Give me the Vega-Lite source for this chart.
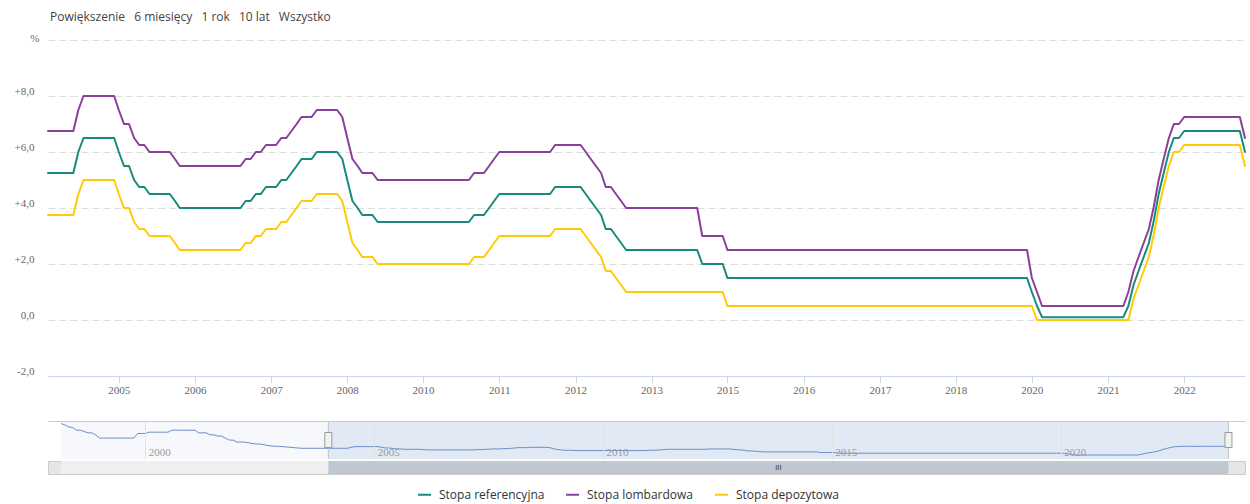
{
"$schema": "https://vega.github.io/schema/vega-lite/v6.json",
"background": "white",
"padding": {"left": 14, "top": 11, "right": 5, "bottom": 12},
"title": {"text": "Powiększenie\u2002 6 miesięcy\u2002 1 rok\u2002 10 lat\u2002 Wszystko", "anchor": "start", "font": "Open Sans", "fontSize": 12, "fontWeight": "normal", "color": "#444444", "offset": 8, "dx": 36},
"datasets": {"rates": [
{"date":"1998-03-01","ref":24},{"date":"1998-04-01","ref":23},{"date":"1998-05-01","ref":21.5},{"date":"1998-06-01","ref":21},{"date":"1998-07-01","ref":19},{"date":"1998-08-01","ref":19},{"date":"1998-09-01","ref":18},{"date":"1998-10-01","ref":17},{"date":"1998-11-01","ref":17},{"date":"1998-12-01","ref":15.5},
{"date":"1999-01-01","ref":13},{"date":"1999-02-01","ref":13},{"date":"1999-03-01","ref":13},{"date":"1999-04-01","ref":13},{"date":"1999-05-01","ref":13},{"date":"1999-06-01","ref":13},{"date":"1999-07-01","ref":13},{"date":"1999-08-01","ref":13},{"date":"1999-09-01","ref":13},{"date":"1999-10-01","ref":13},{"date":"1999-11-01","ref":16.5},{"date":"1999-12-01","ref":16.5},
{"date":"2000-01-01","ref":16.5},{"date":"2000-02-01","ref":17.5},{"date":"2000-03-01","ref":17.5},{"date":"2000-04-01","ref":17.5},{"date":"2000-05-01","ref":17.5},{"date":"2000-06-01","ref":17.5},{"date":"2000-07-01","ref":17.5},{"date":"2000-08-01","ref":19},{"date":"2000-09-01","ref":19},{"date":"2000-10-01","ref":19},{"date":"2000-11-01","ref":19},{"date":"2000-12-01","ref":19},
{"date":"2001-01-01","ref":19},{"date":"2001-02-01","ref":19},{"date":"2001-03-01","ref":17},{"date":"2001-04-01","ref":17},{"date":"2001-05-01","ref":17},{"date":"2001-06-01","ref":15.5},{"date":"2001-07-01","ref":15.5},{"date":"2001-08-01","ref":14.5},{"date":"2001-09-01","ref":14.5},{"date":"2001-10-01","ref":13},{"date":"2001-11-01","ref":11.5},{"date":"2001-12-01","ref":11.5},
{"date":"2002-01-01","ref":10},{"date":"2002-02-01","ref":10},{"date":"2002-03-01","ref":10},{"date":"2002-04-01","ref":9.5},{"date":"2002-05-01","ref":9},{"date":"2002-06-01","ref":8.5},{"date":"2002-07-01","ref":8.5},{"date":"2002-08-01","ref":8},{"date":"2002-09-01","ref":7.5},{"date":"2002-10-01","ref":7},{"date":"2002-11-01","ref":6.75},{"date":"2002-12-01","ref":6.75},
{"date":"2003-01-01","ref":6.5},{"date":"2003-02-01","ref":6.25},{"date":"2003-03-01","ref":6},{"date":"2003-04-01","ref":5.75},{"date":"2003-05-01","ref":5.5},{"date":"2003-06-01","ref":5.25},{"date":"2003-07-01","ref":5.25},{"date":"2003-08-01","ref":5.25},{"date":"2003-09-01","ref":5.25},{"date":"2003-10-01","ref":5.25},{"date":"2003-11-01","ref":5.25},{"date":"2003-12-01","ref":5.25},
{"date":"2004-01-01","ref":5.25,"lomb":6.75,"dep":3.75},{"date":"2004-02-01","ref":5.25,"lomb":6.75,"dep":3.75},{"date":"2004-03-01","ref":5.25,"lomb":6.75,"dep":3.75},{"date":"2004-04-01","ref":5.25,"lomb":6.75,"dep":3.75},{"date":"2004-05-01","ref":5.25,"lomb":6.75,"dep":3.75},{"date":"2004-06-01","ref":5.25,"lomb":6.75,"dep":3.75},
{"date":"2004-07-01","ref":6,"lomb":7.5,"dep":4.5},{"date":"2004-08-01","ref":6.5,"lomb":8,"dep":5},{"date":"2004-09-01","ref":6.5,"lomb":8,"dep":5},{"date":"2004-10-01","ref":6.5,"lomb":8,"dep":5},{"date":"2004-11-01","ref":6.5,"lomb":8,"dep":5},{"date":"2004-12-01","ref":6.5,"lomb":8,"dep":5},
{"date":"2005-01-01","ref":6.5,"lomb":8,"dep":5},{"date":"2005-02-01","ref":6.5,"lomb":8,"dep":5},{"date":"2005-03-01","ref":6,"lomb":7.5,"dep":4.5},{"date":"2005-04-01","ref":5.5,"lomb":7,"dep":4},{"date":"2005-05-01","ref":5.5,"lomb":7,"dep":4},{"date":"2005-06-01","ref":5,"lomb":6.5,"dep":3.5},
{"date":"2005-07-01","ref":4.75,"lomb":6.25,"dep":3.25},{"date":"2005-08-01","ref":4.75,"lomb":6.25,"dep":3.25},{"date":"2005-09-01","ref":4.5,"lomb":6,"dep":3},{"date":"2005-10-01","ref":4.5,"lomb":6,"dep":3},{"date":"2005-11-01","ref":4.5,"lomb":6,"dep":3},{"date":"2005-12-01","ref":4.5,"lomb":6,"dep":3},
{"date":"2006-01-01","ref":4.5,"lomb":6,"dep":3},{"date":"2006-02-01","ref":4.25,"lomb":5.75,"dep":2.75},{"date":"2006-03-01","ref":4,"lomb":5.5,"dep":2.5},{"date":"2006-04-01","ref":4,"lomb":5.5,"dep":2.5},{"date":"2006-05-01","ref":4,"lomb":5.5,"dep":2.5},{"date":"2006-06-01","ref":4,"lomb":5.5,"dep":2.5},
{"date":"2006-07-01","ref":4,"lomb":5.5,"dep":2.5},{"date":"2006-08-01","ref":4,"lomb":5.5,"dep":2.5},{"date":"2006-09-01","ref":4,"lomb":5.5,"dep":2.5},{"date":"2006-10-01","ref":4,"lomb":5.5,"dep":2.5},{"date":"2006-11-01","ref":4,"lomb":5.5,"dep":2.5},{"date":"2006-12-01","ref":4,"lomb":5.5,"dep":2.5},
{"date":"2007-01-01","ref":4,"lomb":5.5,"dep":2.5},{"date":"2007-02-01","ref":4,"lomb":5.5,"dep":2.5},{"date":"2007-03-01","ref":4,"lomb":5.5,"dep":2.5},{"date":"2007-04-01","ref":4.25,"lomb":5.75,"dep":2.75},{"date":"2007-05-01","ref":4.25,"lomb":5.75,"dep":2.75},{"date":"2007-06-01","ref":4.5,"lomb":6,"dep":3},
{"date":"2007-07-01","ref":4.5,"lomb":6,"dep":3},{"date":"2007-08-01","ref":4.75,"lomb":6.25,"dep":3.25},{"date":"2007-09-01","ref":4.75,"lomb":6.25,"dep":3.25},{"date":"2007-10-01","ref":4.75,"lomb":6.25,"dep":3.25},{"date":"2007-11-01","ref":5,"lomb":6.5,"dep":3.5},{"date":"2007-12-01","ref":5,"lomb":6.5,"dep":3.5},
{"date":"2008-01-01","ref":5.25,"lomb":6.75,"dep":3.75},{"date":"2008-02-01","ref":5.5,"lomb":7,"dep":4},{"date":"2008-03-01","ref":5.75,"lomb":7.25,"dep":4.25},{"date":"2008-04-01","ref":5.75,"lomb":7.25,"dep":4.25},{"date":"2008-05-01","ref":5.75,"lomb":7.25,"dep":4.25},{"date":"2008-06-01","ref":6,"lomb":7.5,"dep":4.5},
{"date":"2008-07-01","ref":6,"lomb":7.5,"dep":4.5},{"date":"2008-08-01","ref":6,"lomb":7.5,"dep":4.5},{"date":"2008-09-01","ref":6,"lomb":7.5,"dep":4.5},{"date":"2008-10-01","ref":6,"lomb":7.5,"dep":4.5},{"date":"2008-11-01","ref":5.75,"lomb":7.25,"dep":4.25},{"date":"2008-12-01","ref":5,"lomb":6.5,"dep":3.5},
{"date":"2009-01-01","ref":4.25,"lomb":5.75,"dep":2.75},{"date":"2009-02-01","ref":4,"lomb":5.5,"dep":2.5},{"date":"2009-03-01","ref":3.75,"lomb":5.25,"dep":2.25},{"date":"2009-04-01","ref":3.75,"lomb":5.25,"dep":2.25},{"date":"2009-05-01","ref":3.75,"lomb":5.25,"dep":2.25},{"date":"2009-06-01","ref":3.5,"lomb":5,"dep":2},
{"date":"2009-07-01","ref":3.5,"lomb":5,"dep":2},{"date":"2009-08-01","ref":3.5,"lomb":5,"dep":2},{"date":"2009-09-01","ref":3.5,"lomb":5,"dep":2},{"date":"2009-10-01","ref":3.5,"lomb":5,"dep":2},{"date":"2009-11-01","ref":3.5,"lomb":5,"dep":2},{"date":"2009-12-01","ref":3.5,"lomb":5,"dep":2},
{"date":"2010-01-01","ref":3.5,"lomb":5,"dep":2},{"date":"2010-02-01","ref":3.5,"lomb":5,"dep":2},{"date":"2010-03-01","ref":3.5,"lomb":5,"dep":2},{"date":"2010-04-01","ref":3.5,"lomb":5,"dep":2},{"date":"2010-05-01","ref":3.5,"lomb":5,"dep":2},{"date":"2010-06-01","ref":3.5,"lomb":5,"dep":2},
{"date":"2010-07-01","ref":3.5,"lomb":5,"dep":2},{"date":"2010-08-01","ref":3.5,"lomb":5,"dep":2},{"date":"2010-09-01","ref":3.5,"lomb":5,"dep":2},{"date":"2010-10-01","ref":3.5,"lomb":5,"dep":2},{"date":"2010-11-01","ref":3.5,"lomb":5,"dep":2},{"date":"2010-12-01","ref":3.5,"lomb":5,"dep":2},
{"date":"2011-01-01","ref":3.75,"lomb":5.25,"dep":2.25},{"date":"2011-02-01","ref":3.75,"lomb":5.25,"dep":2.25},{"date":"2011-03-01","ref":3.75,"lomb":5.25,"dep":2.25},{"date":"2011-04-01","ref":4,"lomb":5.5,"dep":2.5},{"date":"2011-05-01","ref":4.25,"lomb":5.75,"dep":2.75},{"date":"2011-06-01","ref":4.5,"lomb":6,"dep":3},
{"date":"2011-07-01","ref":4.5,"lomb":6,"dep":3},{"date":"2011-08-01","ref":4.5,"lomb":6,"dep":3},{"date":"2011-09-01","ref":4.5,"lomb":6,"dep":3},{"date":"2011-10-01","ref":4.5,"lomb":6,"dep":3},{"date":"2011-11-01","ref":4.5,"lomb":6,"dep":3},{"date":"2011-12-01","ref":4.5,"lomb":6,"dep":3},
{"date":"2012-01-01","ref":4.5,"lomb":6,"dep":3},{"date":"2012-02-01","ref":4.5,"lomb":6,"dep":3},{"date":"2012-03-01","ref":4.5,"lomb":6,"dep":3},{"date":"2012-04-01","ref":4.5,"lomb":6,"dep":3},{"date":"2012-05-01","ref":4.75,"lomb":6.25,"dep":3.25},{"date":"2012-06-01","ref":4.75,"lomb":6.25,"dep":3.25},
{"date":"2012-07-01","ref":4.75,"lomb":6.25,"dep":3.25},{"date":"2012-08-01","ref":4.75,"lomb":6.25,"dep":3.25},{"date":"2012-09-01","ref":4.75,"lomb":6.25,"dep":3.25},{"date":"2012-10-01","ref":4.75,"lomb":6.25,"dep":3.25},{"date":"2012-11-01","ref":4.5,"lomb":6,"dep":3},{"date":"2012-12-01","ref":4.25,"lomb":5.75,"dep":2.75},
{"date":"2013-01-01","ref":4,"lomb":5.5,"dep":2.5},{"date":"2013-02-01","ref":3.75,"lomb":5.25,"dep":2.25},{"date":"2013-03-01","ref":3.25,"lomb":4.75,"dep":1.75},{"date":"2013-04-01","ref":3.25,"lomb":4.75,"dep":1.75},{"date":"2013-05-01","ref":3,"lomb":4.5,"dep":1.5},{"date":"2013-06-01","ref":2.75,"lomb":4.25,"dep":1.25},
{"date":"2013-07-01","ref":2.5,"lomb":4,"dep":1},{"date":"2013-08-01","ref":2.5,"lomb":4,"dep":1},{"date":"2013-09-01","ref":2.5,"lomb":4,"dep":1},{"date":"2013-10-01","ref":2.5,"lomb":4,"dep":1},{"date":"2013-11-01","ref":2.5,"lomb":4,"dep":1},{"date":"2013-12-01","ref":2.5,"lomb":4,"dep":1},
{"date":"2014-01-01","ref":2.5,"lomb":4,"dep":1},{"date":"2014-02-01","ref":2.5,"lomb":4,"dep":1},{"date":"2014-03-01","ref":2.5,"lomb":4,"dep":1},{"date":"2014-04-01","ref":2.5,"lomb":4,"dep":1},{"date":"2014-05-01","ref":2.5,"lomb":4,"dep":1},{"date":"2014-06-01","ref":2.5,"lomb":4,"dep":1},
{"date":"2014-07-01","ref":2.5,"lomb":4,"dep":1},{"date":"2014-08-01","ref":2.5,"lomb":4,"dep":1},{"date":"2014-09-01","ref":2.5,"lomb":4,"dep":1},{"date":"2014-10-01","ref":2,"lomb":3,"dep":1},{"date":"2014-11-01","ref":2,"lomb":3,"dep":1},{"date":"2014-12-01","ref":2,"lomb":3,"dep":1},
{"date":"2015-01-01","ref":2,"lomb":3,"dep":1},{"date":"2015-02-01","ref":2,"lomb":3,"dep":1},{"date":"2015-03-01","ref":1.5,"lomb":2.5,"dep":0.5},{"date":"2015-04-01","ref":1.5,"lomb":2.5,"dep":0.5},{"date":"2015-05-01","ref":1.5,"lomb":2.5,"dep":0.5},{"date":"2015-06-01","ref":1.5,"lomb":2.5,"dep":0.5},
{"date":"2015-07-01","ref":1.5,"lomb":2.5,"dep":0.5},{"date":"2015-08-01","ref":1.5,"lomb":2.5,"dep":0.5},{"date":"2015-09-01","ref":1.5,"lomb":2.5,"dep":0.5},{"date":"2015-10-01","ref":1.5,"lomb":2.5,"dep":0.5},{"date":"2015-11-01","ref":1.5,"lomb":2.5,"dep":0.5},{"date":"2015-12-01","ref":1.5,"lomb":2.5,"dep":0.5},
{"date":"2016-01-01","ref":1.5,"lomb":2.5,"dep":0.5},{"date":"2016-02-01","ref":1.5,"lomb":2.5,"dep":0.5},{"date":"2016-03-01","ref":1.5,"lomb":2.5,"dep":0.5},{"date":"2016-04-01","ref":1.5,"lomb":2.5,"dep":0.5},{"date":"2016-05-01","ref":1.5,"lomb":2.5,"dep":0.5},{"date":"2016-06-01","ref":1.5,"lomb":2.5,"dep":0.5},
{"date":"2016-07-01","ref":1.5,"lomb":2.5,"dep":0.5},{"date":"2016-08-01","ref":1.5,"lomb":2.5,"dep":0.5},{"date":"2016-09-01","ref":1.5,"lomb":2.5,"dep":0.5},{"date":"2016-10-01","ref":1.5,"lomb":2.5,"dep":0.5},{"date":"2016-11-01","ref":1.5,"lomb":2.5,"dep":0.5},{"date":"2016-12-01","ref":1.5,"lomb":2.5,"dep":0.5},
{"date":"2017-01-01","ref":1.5,"lomb":2.5,"dep":0.5},{"date":"2017-02-01","ref":1.5,"lomb":2.5,"dep":0.5},{"date":"2017-03-01","ref":1.5,"lomb":2.5,"dep":0.5},{"date":"2017-04-01","ref":1.5,"lomb":2.5,"dep":0.5},{"date":"2017-05-01","ref":1.5,"lomb":2.5,"dep":0.5},{"date":"2017-06-01","ref":1.5,"lomb":2.5,"dep":0.5},
{"date":"2017-07-01","ref":1.5,"lomb":2.5,"dep":0.5},{"date":"2017-08-01","ref":1.5,"lomb":2.5,"dep":0.5},{"date":"2017-09-01","ref":1.5,"lomb":2.5,"dep":0.5},{"date":"2017-10-01","ref":1.5,"lomb":2.5,"dep":0.5},{"date":"2017-11-01","ref":1.5,"lomb":2.5,"dep":0.5},{"date":"2017-12-01","ref":1.5,"lomb":2.5,"dep":0.5},
{"date":"2018-01-01","ref":1.5,"lomb":2.5,"dep":0.5},{"date":"2018-02-01","ref":1.5,"lomb":2.5,"dep":0.5},{"date":"2018-03-01","ref":1.5,"lomb":2.5,"dep":0.5},{"date":"2018-04-01","ref":1.5,"lomb":2.5,"dep":0.5},{"date":"2018-05-01","ref":1.5,"lomb":2.5,"dep":0.5},{"date":"2018-06-01","ref":1.5,"lomb":2.5,"dep":0.5},
{"date":"2018-07-01","ref":1.5,"lomb":2.5,"dep":0.5},{"date":"2018-08-01","ref":1.5,"lomb":2.5,"dep":0.5},{"date":"2018-09-01","ref":1.5,"lomb":2.5,"dep":0.5},{"date":"2018-10-01","ref":1.5,"lomb":2.5,"dep":0.5},{"date":"2018-11-01","ref":1.5,"lomb":2.5,"dep":0.5},{"date":"2018-12-01","ref":1.5,"lomb":2.5,"dep":0.5},
{"date":"2019-01-01","ref":1.5,"lomb":2.5,"dep":0.5},{"date":"2019-02-01","ref":1.5,"lomb":2.5,"dep":0.5},{"date":"2019-03-01","ref":1.5,"lomb":2.5,"dep":0.5},{"date":"2019-04-01","ref":1.5,"lomb":2.5,"dep":0.5},{"date":"2019-05-01","ref":1.5,"lomb":2.5,"dep":0.5},{"date":"2019-06-01","ref":1.5,"lomb":2.5,"dep":0.5},
{"date":"2019-07-01","ref":1.5,"lomb":2.5,"dep":0.5},{"date":"2019-08-01","ref":1.5,"lomb":2.5,"dep":0.5},{"date":"2019-09-01","ref":1.5,"lomb":2.5,"dep":0.5},{"date":"2019-10-01","ref":1.5,"lomb":2.5,"dep":0.5},{"date":"2019-11-01","ref":1.5,"lomb":2.5,"dep":0.5},{"date":"2019-12-01","ref":1.5,"lomb":2.5,"dep":0.5},
{"date":"2020-01-01","ref":1.5,"lomb":2.5,"dep":0.5},{"date":"2020-02-01","ref":1.5,"lomb":2.5,"dep":0.5},{"date":"2020-03-01","ref":1,"lomb":1.5,"dep":0.5},{"date":"2020-04-01","ref":0.5,"lomb":1,"dep":0},{"date":"2020-05-01","ref":0.1,"lomb":0.5,"dep":0},{"date":"2020-06-01","ref":0.1,"lomb":0.5,"dep":0},
{"date":"2020-07-01","ref":0.1,"lomb":0.5,"dep":0},{"date":"2020-08-01","ref":0.1,"lomb":0.5,"dep":0},{"date":"2020-09-01","ref":0.1,"lomb":0.5,"dep":0},{"date":"2020-10-01","ref":0.1,"lomb":0.5,"dep":0},{"date":"2020-11-01","ref":0.1,"lomb":0.5,"dep":0},{"date":"2020-12-01","ref":0.1,"lomb":0.5,"dep":0},
{"date":"2021-01-01","ref":0.1,"lomb":0.5,"dep":0},{"date":"2021-02-01","ref":0.1,"lomb":0.5,"dep":0},{"date":"2021-03-01","ref":0.1,"lomb":0.5,"dep":0},{"date":"2021-04-01","ref":0.1,"lomb":0.5,"dep":0},{"date":"2021-05-01","ref":0.1,"lomb":0.5,"dep":0},{"date":"2021-06-01","ref":0.1,"lomb":0.5,"dep":0},
{"date":"2021-07-01","ref":0.1,"lomb":0.5,"dep":0},{"date":"2021-08-01","ref":0.1,"lomb":0.5,"dep":0},{"date":"2021-09-01","ref":0.1,"lomb":0.5,"dep":0},{"date":"2021-10-01","ref":0.5,"lomb":1,"dep":0},{"date":"2021-11-01","ref":1.25,"lomb":1.75,"dep":0.75},{"date":"2021-12-01","ref":1.75,"lomb":2.25,"dep":1.25},
{"date":"2022-01-01","ref":2.25,"lomb":2.75,"dep":1.75},{"date":"2022-02-01","ref":2.75,"lomb":3.25,"dep":2.25},{"date":"2022-03-01","ref":3.5,"lomb":4,"dep":3},{"date":"2022-04-01","ref":4.5,"lomb":5,"dep":4},{"date":"2022-05-01","ref":5.25,"lomb":5.75,"dep":4.75},{"date":"2022-06-01","ref":6,"lomb":6.5,"dep":5.5},
{"date":"2022-07-01","ref":6.5,"lomb":7,"dep":6},{"date":"2022-08-01","ref":6.5,"lomb":7,"dep":6},{"date":"2022-09-01","ref":6.75,"lomb":7.25,"dep":6.25},{"date":"2022-10-01","ref":6.75,"lomb":7.25,"dep":6.25},{"date":"2022-11-01","ref":6.75,"lomb":7.25,"dep":6.25},{"date":"2022-12-01","ref":6.75,"lomb":7.25,"dep":6.25},
{"date":"2023-01-01","ref":6.75,"lomb":7.25,"dep":6.25},{"date":"2023-02-01","ref":6.75,"lomb":7.25,"dep":6.25},{"date":"2023-03-01","ref":6.75,"lomb":7.25,"dep":6.25},{"date":"2023-04-01","ref":6.75,"lomb":7.25,"dep":6.25},{"date":"2023-05-01","ref":6.75,"lomb":7.25,"dep":6.25},{"date":"2023-06-01","ref":6.75,"lomb":7.25,"dep":6.25},
{"date":"2023-07-01","ref":6.75,"lomb":7.25,"dep":6.25},{"date":"2023-08-01","ref":6.75,"lomb":7.25,"dep":6.25},{"date":"2023-09-01","ref":6,"lomb":6.5,"dep":5.5}
]},
"resolve": {"scale": {"x": "independent", "y": "independent"}},
"spacing": 25,
"vconcat": [
{
 "width": 1197, "height": 336,
 "data": {"name": "rates", "format": {"parse": {"date": "date"}}},
 "transform": [{"filter": "isValid(datum.lomb)"}, {"fold": ["ref", "lomb", "dep"], "as": ["series", "value"]}],
 "mark": {"type": "line", "strokeWidth": 2, "strokeJoin": "round", "strokeCap": "round"},
 "encoding": {
  "x": {"field": "date", "type": "temporal", "title": null,
        "scale": {"type": "utc", "nice": false},
        "axis": {"values": [
          {"year": 2005, "month": 3, "date": 1, "utc": true},
          {"year": 2006, "month": 6, "date": 1, "utc": true},
          {"year": 2007, "month": 9, "date": 1, "utc": true},
          {"year": 2008, "month": 12, "date": 1, "utc": true},
          {"year": 2010, "month": 3, "date": 1, "utc": true},
          {"year": 2011, "month": 6, "date": 1, "utc": true},
          {"year": 2012, "month": 9, "date": 1, "utc": true},
          {"year": 2013, "month": 12, "date": 1, "utc": true},
          {"year": 2015, "month": 3, "date": 1, "utc": true},
          {"year": 2016, "month": 6, "date": 1, "utc": true},
          {"year": 2017, "month": 9, "date": 1, "utc": true},
          {"year": 2018, "month": 12, "date": 1, "utc": true},
          {"year": 2020, "month": 3, "date": 1, "utc": true},
          {"year": 2021, "month": 6, "date": 1, "utc": true},
          {"year": 2022, "month": 9, "date": 1, "utc": true}],
          "format": "%Y", "grid": false, "domainColor": "#ccd6eb", "tickColor": "#ccd6eb", "tickSize": 7,
          "labelPadding": 1, "labelFlush": false, "labelOverlap": false,
          "labelFont": "Liberation Serif", "labelFontSize": 11, "labelColor": "#666666"}},
  "y": {"field": "value", "type": "quantitative", "title": null,
        "scale": {"domain": [-2, 10], "nice": false, "zero": false},
        "axis": {"values": [-2, 0, 2, 4, 6, 8, 10],
          "labelExpr": "datum.value == 10 ? '' : (datum.value > 0 ? '+' : datum.value < 0 ? '-' : '') + abs(datum.value) + ',0'",
          "grid": true, "gridColor": "#dddddd", "gridDash": [7, 4], "domain": false, "ticks": false, "tickSize": 0,
          "labelPadding": 14, "labelOffset": -2, "labelBaseline": "alphabetic",
          "labelFont": "Liberation Serif", "labelFontSize": 11, "labelColor": "#666666",
          "title": "%", "titleAngle": 0, "titleX": -9, "titleY": -2, "titleAlign": "right", "titleBaseline": "middle",
          "titleFont": "Liberation Serif", "titleFontSize": 11, "titleFontWeight": "normal", "titleColor": "#666666"}},
  "color": {"field": "series", "type": "nominal",
        "scale": {"domain": ["ref", "lomb", "dep"], "range": ["#168b7c", "#8a3f9b", "#ffcb05"]},
        "legend": {"orient": "none", "legendX": 369, "legendY": 447, "direction": "horizontal", "title": null,
          "labelExpr": "datum.value == 'ref' ? 'Stopa referencyjna' : datum.value == 'lomb' ? 'Stopa lombardowa' : 'Stopa depozytowa'",
          "symbolType": "stroke", "symbolStrokeWidth": 2, "symbolSize": 169,
          "labelFont": "Open Sans", "labelFontSize": 12, "labelColor": "#333333",
          "columnPadding": 17, "labelOffset": 7}}
 }
},
{
 "resolve": {"scale": {"x": "independent", "y": "independent"}},
 "spacing": 0,
 "vconcat": [
 {
  "width": 1197, "height": 38,
  "layer": [
   {"data": {"name": "rates", "format": {"parse": {"date": "date"}}},
    "transform": [{"aggregate": [{"op": "min", "field": "date", "as": "d0"}, {"op": "max", "field": "date", "as": "d1"}]}],
    "mark": {"type": "rect", "fill": "#f6f8fb"},
    "encoding": {
      "x": {"field": "d0", "type": "temporal", "title": null,
        "scale": {"type": "utc", "domain": [{"year": 1997, "month": 11, "date": 16, "utc": true}, {"year": 2024, "month": 1, "date": 11, "utc": true}]},
        "axis": {"orient": "top", "title": null, "values": [
          {"year": 2000, "month": 1, "date": 1, "utc": true},
          {"year": 2005, "month": 1, "date": 1, "utc": true},
          {"year": 2010, "month": 1, "date": 1, "utc": true},
          {"year": 2015, "month": 1, "date": 1, "utc": true},
          {"year": 2020, "month": 1, "date": 1, "utc": true}],
          "format": "%Y", "domain": true, "domainColor": "#cccccc", "ticks": false, "tickSize": 0,
          "grid": true, "gridColor": "#e2e2e2", "zindex": 1,
          "labelAlign": "left", "labelBaseline": "alphabetic", "labelPadding": -34, "labelOffset": 3,
          "labelFlush": false, "labelOverlap": false,
          "labelFont": "Liberation Serif", "labelFontSize": 11, "labelColor": "#999999"}},
      "x2": {"field": "d1"}}},
   {"data": {"name": "rates", "format": {"parse": {"date": "date"}}},
    "transform": [{"filter": "isValid(datum.lomb)"}, {"aggregate": [{"op": "min", "field": "date", "as": "d0"}, {"op": "max", "field": "date", "as": "d1"}]}],
    "mark": {"type": "rect", "fill": "#e1eaf4"},
    "encoding": {"x": {"field": "d0", "type": "temporal", "title": null}, "x2": {"field": "d1"}}},
   {"data": {"name": "rates", "format": {"parse": {"date": "date"}}},
    "mark": {"type": "line", "stroke": "#6b8dc8", "strokeWidth": 1},
    "encoding": {
      "x": {"field": "date", "type": "temporal", "title": null},
      "y": {"field": "ref", "type": "quantitative", "title": null, "axis": null, "scale": {"domain": [-2.9, 26], "nice": false, "zero": false}}}},
   {"data": {"name": "rates", "format": {"parse": {"date": "date"}}},
    "transform": [{"filter": "isValid(datum.lomb)"}, {"aggregate": [{"op": "min", "field": "date", "as": "d0"}, {"op": "max", "field": "date", "as": "d1"}]}, {"fold": ["d0", "d1"], "as": ["edge", "at"]}],
    "layer": [
      {"mark": {"type": "rule", "stroke": "#c4c4c4", "strokeWidth": 1},
       "encoding": {"x": {"field": "at", "type": "temporal", "title": null}}},
      {"mark": {"type": "point", "shape": "M-0.47,-1H0.47V1H-0.47Z", "size": 225, "filled": true, "fill": "#f2f2f2", "stroke": "#999999", "strokeWidth": 1, "opacity": 1},
       "encoding": {"x": {"field": "at", "type": "temporal", "title": null}}}
    ]}
  ]
 },
 {
  "width": 1197, "height": 13,
  "view": {"fill": "#e6e6e6", "stroke": "#cccccc"},
  "layer": [
   {"data": {"name": "rates", "format": {"parse": {"date": "date"}}},
    "transform": [{"aggregate": [{"op": "min", "field": "date", "as": "d0"}, {"op": "max", "field": "date", "as": "d1"}]}],
    "mark": {"type": "rect", "fill": "#efefef"},
    "encoding": {
      "x": {"field": "d0", "type": "temporal", "title": null, "axis": null,
        "scale": {"type": "utc", "domain": [{"year": 1997, "month": 11, "date": 16, "utc": true}, {"year": 2024, "month": 1, "date": 11, "utc": true}]}},
      "x2": {"field": "d1"}}},
   {"data": {"name": "rates", "format": {"parse": {"date": "date"}}},
    "transform": [{"filter": "isValid(datum.lomb)"}, {"aggregate": [{"op": "min", "field": "date", "as": "d0"}, {"op": "max", "field": "date", "as": "d1"}]}],
    "mark": {"type": "rect", "fill": "#bfc7d0"},
    "encoding": {"x": {"field": "d0", "type": "temporal", "title": null}, "x2": {"field": "d1"}}},
   {"data": {"name": "rates", "format": {"parse": {"date": "date"}}},
    "transform": [{"filter": "isValid(datum.lomb)"}, {"aggregate": [{"op": "mean", "field": "date", "as": "mid"}]}],
    "mark": {"type": "text", "text": "III", "font": "DejaVu Sans", "fontSize": 7, "color": "#333333", "baseline": "middle", "align": "center"},
    "encoding": {"x": {"field": "mid", "type": "temporal", "title": null}}}
  ]
 }
 ]
}
],
"config": {
 "view": {"stroke": null},
 "font": "Open Sans"
}
}
